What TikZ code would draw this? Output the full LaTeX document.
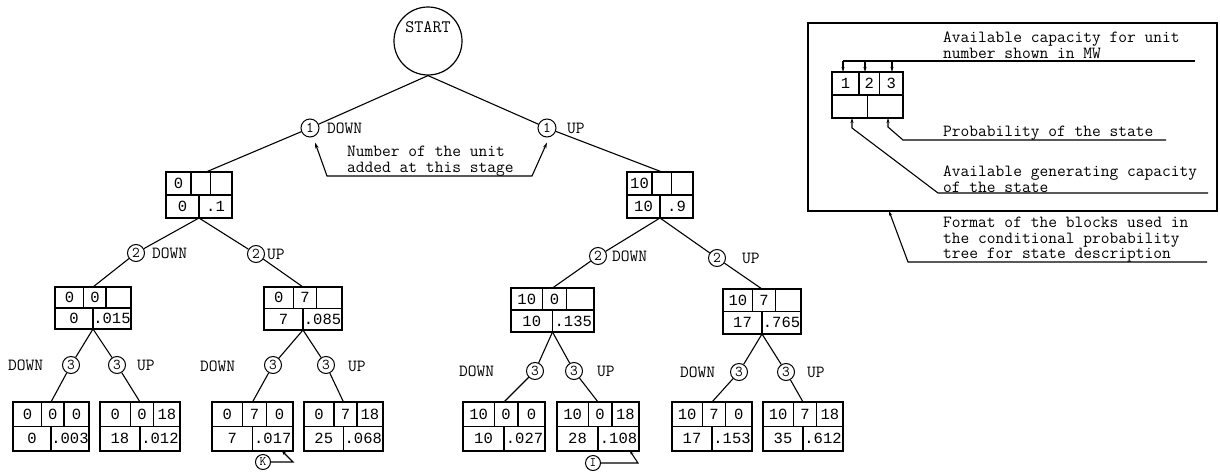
\documentclass[tikz,border=0pt]{standalone}
\usepackage{fontspec}
\newfontfamily\digf{Liberation Mono}
\usetikzlibrary{arrows.meta}
\tikzset{
  lbl/.style={font=\ttfamily\fontsize{17}{15.5}\selectfont, inner sep=0pt, anchor=west},
  txt/.style={font=\ttfamily\fontsize{17}{15.5}\selectfont, inner sep=0pt, anchor=north west, align=left},
  num/.style={font=\digf\fontsize{15.5}{15.5}\selectfont, inner sep=0pt},
  unit/.style={circle, draw, line width=1pt, fill=white, inner sep=0pt, minimum size=#1, font=\ttfamily\fontsize{15}{15}\selectfont},
  unit/.default=17pt,
  cellbox/.style={draw, line width=1.2pt, inner sep=0pt, outer sep=0pt, anchor=north west},
  edge/.style={line width=1.1pt},
  tips/.style={{Stealth[length=6pt,width=3.5pt]}-{Stealth[length=6pt,width=3.5pt]}},
  tip/.style={-{Stealth[length=5pt,width=3pt]}},
}
\newcommand\stateblock[9]{%
  \begin{scope}[shift={(#2)}]
    \node[cellbox, minimum width=#3pt, minimum height=#4pt] (#1) at (0,0) {};
    \draw[line width=1.2pt] (0,{#4/2}) -- (#3,{#4/2})
      ({0.38*#3},0) -- ({0.38*#3},{#4/2})
      ({0.67*#3},0) -- ({0.67*#3},{#4/2})
      ({0.5*#3},{#4/2}) -- ({0.5*#3},#4);
    \node[num] (#1-a) at ({0.19*#3},{#4/4}) {#5};
    \node[num] (#1-b) at ({0.525*#3},{#4/4}) {#6};
    \node[num] (#1-c) at ({0.835*#3},{#4/4}) {#7};
    \node[num] (#1-d) at ({0.25*#3},{0.75*#4}) {#8};
    \node[num] (#1-e) at ({0.75*#3},{0.75*#4}) {#9};
  \end{scope}}
\begin{document}
\begin{tikzpicture}[x=1pt,y=-1pt]
\useasboundingbox (0,0) rectangle (1220,471);

% START
\node[circle, draw, line width=1.2pt, minimum size=68pt, inner sep=0pt, text height=11pt, text depth=28pt,
      font=\ttfamily\fontsize{17.5}{15}\selectfont] (start) at (428,41) {START};

% state blocks
\stateblock{L1a}{166,172}{66}{46}{0}{}{}{0}{.1}
\stateblock{L1b}{627,172}{66}{46}{10}{}{}{10}{.9}
\stateblock{L2a}{55,287}{76}{42}{0}{0}{}{0}{.015}
\stateblock{L2b}{264,287}{78}{43}{0}{7}{}{7}{.085}
\stateblock{L2c}{511,288}{83}{44}{10}{0}{}{10}{.135}
\stateblock{L2d}{723,289}{78}{45}{10}{7}{}{17}{.765}
\stateblock{B1}{13,402}{76}{49}{0}{0}{0}{0}{.003}
\stateblock{B2}{100,402}{80}{49}{0}{0}{18}{18}{.012}
\stateblock{B3}{212,402}{81}{49}{0}{7}{0}{7}{.017}
\stateblock{B4}{304,402}{79}{49}{0}{7}{18}{25}{.068}
\stateblock{B5}{463,402}{82}{49}{10}{0}{0}{10}{.027}
\stateblock{B6}{557,402}{82}{49}{10}{0}{18}{28}{.108}
\stateblock{B7}{672,402}{80}{49}{10}{7}{0}{17}{.153}
\stateblock{B8}{763,402}{80}{49}{10}{7}{18}{35}{.612}

% unit circles
\node[unit=18pt] (c1d) at (310,128) {1};
\node[unit=18pt] (c1u) at (547,128) {1};
\node[unit] (c2a) at (136,253) {2};
\node[unit] (c2b) at (256,254) {2};
\node[unit] (c2c) at (598,256) {2};
\node[unit] (c2d) at (717,258) {2};
\node[unit] (c3a) at (71,365) {3};
\node[unit] (c3b) at (117,365) {3};
\node[unit] (c3c) at (273,365) {3};
\node[unit] (c3d) at (326,365) {3};
\node[unit] (c3e) at (535,371) {3};
\node[unit] (c3f) at (574,371) {3};
\node[unit] (c3g) at (739,372) {3};
\node[unit] (c3h) at (786,372) {3};

% tree edges
\draw[edge] (start.south) -- (c1d) -- ([xshift=40pt]L1a.north west);
\draw[edge] (start.south) -- (c1u) -- ([xshift=35pt]L1b.north west);
\draw[edge] (L1a.south) -- (c2a) -- (L2a.north);
\draw[edge] (L1a.south) -- (c2b) -- (L2b.north);
\draw[edge] (L1b.south) -- (c2c) -- (L2c.north);
\draw[edge] (L1b.south) -- (c2d) -- (L2d.north);
\draw[edge] (L2a.south) -- (c3a) -- (B1.north);
\draw[edge] (L2a.south) -- (c3b) -- (B2.north);
\draw[edge] (L2b.south) -- (c3c) -- (B3.north);
\draw[edge] (L2b.south) -- (c3d) -- (B4.north);
\draw[edge] (L2c.south) -- (c3e) -- (B5.north);
\draw[edge] (L2c.south) -- (c3f) -- (B6.north);
\draw[edge] (L2d.south) -- (c3g) -- (B7.north);
\draw[edge] (L2d.south) -- (c3h) -- (B8.north);

% DOWN / UP labels
\node[lbl] (l1d) at (327,128) {DOWN};
\node[lbl] (l1u) at (567,128) {UP};
\node[lbl] (l2a) at (152,253) {DOWN};
\node[lbl] (l2b) at (267,254) {UP};
\node[lbl] (l2c) at (612,256) {DOWN};
\node[lbl] (l2d) at (742,258) {UP};
\node[lbl] (l3a) at (8,365) {DOWN};
\node[lbl] (l3b) at (137,365) {UP};
\node[lbl] (l3c) at (200,366) {DOWN};
\node[lbl] (l3d) at (348,366) {UP};
\node[lbl] (l3e) at (459,371) {DOWN};
\node[lbl] (l3f) at (597,371) {UP};
\node[lbl] (l3g) at (680,372) {DOWN};
\node[lbl] (l3h) at (807,372) {UP};

% annotation
\node[lbl, align=left] (ann) at (347,161) {Number of the unit\\added at this stage};
\coordinate (aL) at (327,176);
\coordinate (aR) at (532,176);
\draw[edge, tips] ([xshift=5pt,yshift=-5pt]c1d.south) -- (aL) -- (aR) -- ([yshift=-5pt]c1u.south);

% K and I markers
\node[unit=15pt, font=\ttfamily\fontsize{13}{13}\selectfont] (K) at (263,462) {K};
\node[unit=15pt, font=\ttfamily\fontsize{13}{13}\selectfont] (I) at (593,463) {I};
\coordinate (kc) at (293,462);
\coordinate (ic) at (638,463);
\draw[edge, -{Stealth[length=4pt,width=3pt]}] (K) -- (kc) -- ([xshift=-11pt]B3.south east);
\draw[edge, -{Stealth[length=4pt,width=3pt]}] (I) -- (ic) -- ([xshift=-9pt]B6.south east);

% legend
\node[cellbox, minimum width=409pt, minimum height=188pt] (frame) at (808,23) {};
\stateblock{LG}{832,72}{71}{46}{1}{2}{3}{}{}
\node[txt] (t1) at (943,32) {Available capacity for unit\\number shown in MW};
\node[txt] (t2) at (943,126) {Probability of the state};
\node[txt] (t3) at (943,166) {Available generating capacity\\of the state};
\node[txt] (t4) at (943,217) {Format of the blocks used in\\the conditional probability\\tree for state description};

\coordinate (u1r) at (1195,61);
\coordinate (u1a) at (843,61);
\coordinate (u1b) at (865,61);
\coordinate (u1c) at (892,61);
\draw[edge] (u1r) -- (u1a);
\draw[edge, tip] (u1a) -- ([xshift=11pt]LG.north west);
\draw[edge, tip] (u1b) -- ([xshift=33pt]LG.north west);
\draw[edge, tip] (u1c) -- ([xshift=60pt]LG.north west);

\coordinate (u2r) at (1166,140);
\coordinate (u2l) at (903,140);
\coordinate (u2b) at (888,127);
\draw[edge, tip] (u2r) -- (u2l) -- (u2b) -- ([xshift=56pt]LG.south west);

\coordinate (u3r) at (1208,193);
\coordinate (u3l) at (938,193);
\coordinate (u3b) at (852,128);
\draw[edge, tip] (u3r) -- (u3l) -- (u3b) -- ([xshift=20pt]LG.south west);

\coordinate (u4r) at (1207,262);
\coordinate (u4l) at (908,262);
\draw[edge, tip] (u4r) -- (u4l) -- ([xshift=81pt]frame.south west);
\end{tikzpicture}
\end{document}
